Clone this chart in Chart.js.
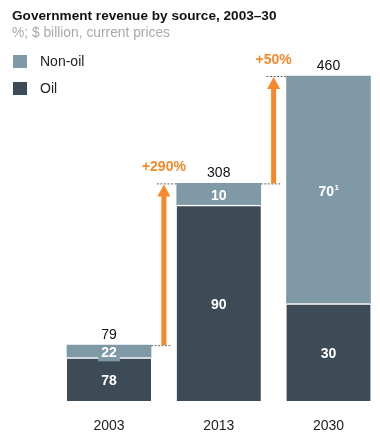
<!DOCTYPE html>
<html>
<head>
<meta charset="utf-8">
<script src="https://cdn.jsdelivr.net/npm/chart.js@4"></script>
<style>
html,body{margin:0;padding:0;background:#fff;}
#wrap{position:relative;width:380px;height:439px;}
</style>
</head>
<body>
<div id="wrap"><canvas id="c" width="380" height="439"></canvas></div>
<script>
// Data
const years = ['2003', '2013', '2030'];
const totals = [79, 308, 460];            // $ billion
const oilPct = [78, 90, 30];              // % of total
const nonOilPct = [22, 10, 70];           // % of total
const nonOilNotes = ['', '', '1'];        // superscript footnote markers
const growthLabels = ['+290%', '+50%'];

const oilValues = totals.map((t, i) => t * oilPct[i] / 100);
const nonOilValues = totals.map((t, i) => t * nonOilPct[i] / 100);

const OIL = '#3c4b55';
const NONOIL = '#7f99a7';
const ORANGE = '#f7892a';
const FONT = '"Liberation Sans", Arial, sans-serif';

const overlay = {
  id: 'overlay',
  afterDatasetsDraw(chart) {
    const ctx = chart.ctx;
    const y = chart.scales.y;
    const metaOil = chart.getDatasetMeta(0);
    const metaNon = chart.getDatasetMeta(1);
    ctx.save();
    // Title and subtitle
    ctx.textBaseline = 'middle';
    ctx.textAlign = 'left';
    ctx.fillStyle = '#111';
    ctx.font = 'bold 13.6px ' + FONT;
    ctx.fillText('Government revenue by source, 2003–30', 12, 16);
    ctx.fillStyle = '#a9a9a9';
    ctx.font = '13.8px ' + FONT;
    ctx.fillText('%; $ billion, current prices', 12, 33);
    // Legend
    ctx.fillStyle = NONOIL;
    ctx.fillRect(13, 55, 14, 13);
    ctx.fillStyle = OIL;
    ctx.fillRect(13, 82, 14, 13);
    ctx.fillStyle = '#222';
    ctx.font = '14px ' + FONT;
    ctx.fillText('Non-oil', 40, 62);
    ctx.fillText('Oil', 40, 89);

    // Segment labels and totals
    ctx.textAlign = 'center';
    for (let i = 0; i < years.length; i++) {
      const bo = metaOil.data[i], bn = metaNon.data[i];
      const x = bo.x;
      // oil label
      ctx.font = 'bold 14px ' + FONT;
      ctx.fillStyle = '#fff';
      const oy = (bo.y + bo.base) / 2 + 2;
      ctx.fillText(String(oilPct[i]), x, oy);
      // non-oil label
      const ny = (bn.y + bn.base) / 2 + 2;
      const txt = String(nonOilPct[i]);
      const w = ctx.measureText(txt).width;
      if (bn.base - bn.y < 16) {
        ctx.fillStyle = NONOIL;
        ctx.fillRect(x - w / 2 - 3, ny - 8, w + 6, 16);
      }
      ctx.fillStyle = '#fff';
      if (nonOilNotes[i]) {
        ctx.font = 'bold 8px ' + FONT;
        const sw = ctx.measureText(nonOilNotes[i]).width;
        ctx.font = 'bold 14px ' + FONT;
        ctx.textAlign = 'left';
        const sx = x - (w + sw) / 2;
        ctx.fillText(txt, sx, ny);
        ctx.font = 'bold 8px ' + FONT;
        ctx.fillText(nonOilNotes[i], sx + w + 0.5, ny - 4);
        ctx.textAlign = 'center';
      } else {
        ctx.fillText(txt, x, ny);
      }
      // total
      ctx.font = '14px ' + FONT;
      ctx.fillStyle = '#111';
      ctx.fillText(String(totals[i]), x, bn.y - 10);
    }

    // Growth arrows
    for (let i = 0; i < years.length - 1; i++) {
      const a = metaNon.data[i], b = metaNon.data[i + 1];
      const aRight = a.x + a.width / 2;
      const bLeft = b.x - b.width / 2;
      const ax = (aRight + bLeft) / 2;
      const y0 = y.getPixelForValue(totals[i]);
      const y1 = y.getPixelForValue(totals[i + 1]);
      // dashed guide lines
      ctx.strokeStyle = '#666';
      ctx.lineWidth = 1;
      ctx.setLineDash([2, 1.5]);
      ctx.beginPath();
      ctx.moveTo(aRight, y0 + 0.5);
      ctx.lineTo(ax + 8, y0 + 0.5);
      ctx.moveTo(ax - 7, y1 + 0.5);
      ctx.lineTo(bLeft, y1 + 0.5);
      ctx.stroke();
      ctx.setLineDash([]);
      // shaft
      ctx.fillStyle = ORANGE;
      ctx.fillRect(ax - 2.5, y1 + 11, 5, y0 - y1 - 11);
      // head
      ctx.beginPath();
      ctx.moveTo(ax, y1 + 1);
      ctx.lineTo(ax + 6.5, y1 + 13);
      ctx.lineTo(ax - 6.5, y1 + 13);
      ctx.closePath();
      ctx.fill();
      // label
      ctx.font = 'bold 14px ' + FONT;
      ctx.textAlign = 'center';
      ctx.fillText(growthLabels[i], ax, y1 - 16);
    }
    ctx.restore();
  }
};

new Chart(document.getElementById('c'), {
  type: 'bar',
  data: {
    labels: years,
    datasets: [
      { label: 'Oil', data: oilValues, backgroundColor: OIL,
        borderColor: '#fff', borderWidth: { top: 1.5, left: 0, right: 0, bottom: 0 }, borderSkipped: false,
        barThickness: 84, clip: false },
      { label: 'Non-oil', data: nonOilValues, backgroundColor: NONOIL,
        borderWidth: 0, barThickness: 84, clip: false }
    ]
  },
  options: {
    responsive: false,
    animation: false,
    events: [],
    layout: { padding: { top: 76, left: 109, right: 51.5, bottom: 0 } },
    plugins: { legend: { display: false }, tooltip: { enabled: false } },
    scales: {
      x: {
        stacked: true,
        offset: false,
        grid: { display: false },
        border: { display: false },
        ticks: { color: '#222', font: { family: FONT, size: 14 }, padding: 9, maxRotation: 0, autoSkip: false },
        afterFit(scale) { scale.height = 38; }
      },
      y: {
        stacked: true,
        display: false,
        min: 0,
        max: 460
      }
    }
  },
  plugins: [overlay]
});
</script>
</body>
</html>
